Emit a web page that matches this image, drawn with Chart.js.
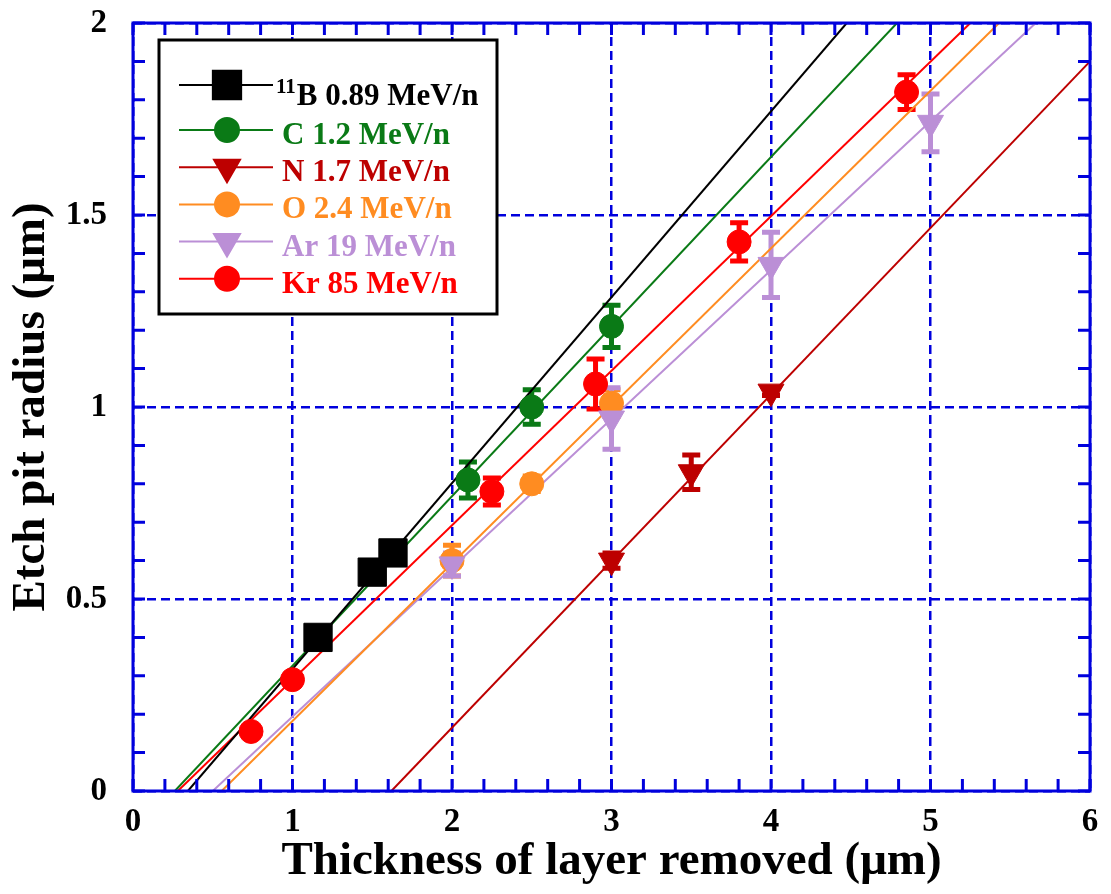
<!DOCTYPE html>
<html>
<head>
<meta charset="utf-8">
<script src="https://cdn.jsdelivr.net/npm/chart.js@4.4.1/dist/chart.umd.min.js"></script>
<style>
body { margin: 0; background: #fff; }
#wrap { width: 1111px; height: 894px; }
</style>
</head>
<body>
<div id="wrap"><canvas id="etch" width="1111" height="894"></canvas></div>
<script>
// measured pits: x = thickness removed (um), y = pit radius (um), err = half error bar
var b_x = [1.16, 1.5, 1.63];
var b_y = [0.40, 0.57, 0.62];
var b_err = [0, 0, 0];

var c_x = [2.1, 2.5, 3.0];
var c_y = [0.81, 1.0, 1.21];
var c_err = [0.047, 0.045, 0.055];

var n_x = [3.0, 3.5, 4.0];
var n_y = [0.60, 0.83, 1.04];
var n_err = [0.02, 0.045, 0.01];

var o_x = [2.0, 2.5, 3.0];
var o_y = [0.60, 0.80, 1.01];
var o_err = [0.04, 0.02, 0.035];

var ar_x = [2.0, 3.0, 4.0, 5.0];
var ar_y = [0.59, 0.97, 1.37, 1.74];
var ar_err = [0.03, 0.08, 0.085, 0.075];

var kr_x = [0.74, 1.0, 2.25, 2.9, 3.8, 4.85];
var kr_y = [0.155, 0.29, 0.78, 1.06, 1.43, 1.82];
var kr_err = [0, 0, 0.035, 0.065, 0.05, 0.045];

// linear fits, given by their two end points
var fit_b_x = [0.344, 4.475];   var fit_b_y = [0, 2];
var fit_c_x = [0.262, 4.79];    var fit_c_y = [0, 2];
var fit_n_x = [1.62, 6.0];      var fit_n_y = [0, 1.90];
var fit_o_x = [0.556, 5.43];    var fit_o_y = [0, 2];
var fit_ar_x = [0.50, 5.66];    var fit_ar_y = [0, 2];
var fit_kr_x = [0.281, 5.25];   var fit_kr_y = [0, 2];

var labels = ['B 0.89 MeV/n', 'C 1.2 MeV/n', 'N 1.7 MeV/n', 'O 2.4 MeV/n', 'Ar 19 MeV/n', 'Kr 85 MeV/n'];
var label_sup = ['11', '', '', '', '', ''];

var x_ticks = [0, 1, 2, 3, 4, 5, 6];
var y_ticks = [0, 0.5, 1, 1.5, 2];

var colors = ['#000000', '#0a7a16', '#bd0000', '#ff8c21', '#bb8fd6', '#ff0000'];
var styles = ['rect', 'circle', 'triangle', 'circle', 'triangle', 'circle'];
var radii = [20, 12, 15, 12, 15, 12];
var turns = [0, 0, 180, 0, 180, 0];

var BLUE = '#0000dd';
var SERIF = '"Liberation Serif", "Times New Roman", serif';

function pts(xs, ys) {
    return xs.map(function(x, i) { return {x: x, y: ys[i]}; });
}

var series = [
    [b_x, b_y, b_err, fit_b_x, fit_b_y],
    [c_x, c_y, c_err, fit_c_x, fit_c_y],
    [n_x, n_y, n_err, fit_n_x, fit_n_y],
    [o_x, o_y, o_err, fit_o_x, fit_o_y],
    [ar_x, ar_y, ar_err, fit_ar_x, fit_ar_y],
    [kr_x, kr_y, kr_err, fit_kr_x, fit_kr_y]
];

var datasets = [];
series.forEach(function(s, i) {
    datasets.push({
        label: labels[i] + ' fit',
        data: pts(s[3], s[4]),
        showLine: true,
        borderColor: colors[i],
        borderWidth: 2,
        pointRadius: 0,
        order: 20
    });
});
series.forEach(function(s, i) {
    datasets.push({
        label: labels[i],
        data: pts(s[0], s[1]),
        err: s[2],
        showLine: false,
        backgroundColor: colors[i],
        borderColor: colors[i],
        pointStyle: styles[i],
        pointRadius: radii[i],
        pointRotation: turns[i],
        pointBorderWidth: 1,
        order: 10 - i
    });
});

function draw_error_bars(chart) {
    var ctx = chart.ctx;
    var xs = chart.scales.x, ys = chart.scales.y;
    ctx.save();
    chart.data.datasets.forEach(function(ds) {
        if (!ds.err) return;
        ctx.strokeStyle = ds.borderColor;
        ds.data.forEach(function(p, j) {
            var e = ds.err[j];
            if (!e) return;
            var px = xs.getPixelForValue(p.x);
            var top = ys.getPixelForValue(p.y + e);
            var bot = ys.getPixelForValue(p.y - e);
            ctx.lineWidth = 5;
            ctx.beginPath();
            ctx.moveTo(px, top); ctx.lineTo(px, bot);
            ctx.moveTo(px - 9, top); ctx.lineTo(px + 9, top);
            ctx.moveTo(px - 9, bot); ctx.lineTo(px + 9, bot);
            ctx.stroke();
        });
    });
    ctx.restore();
}

function draw_frame(chart) {
    var ctx = chart.ctx;
    var a = chart.chartArea;
    var xs = chart.scales.x, ys = chart.scales.y;
    var len = 12;
    ctx.save();
    ctx.strokeStyle = BLUE;
    ctx.lineWidth = 3;
    ctx.beginPath();
    for (var i = 0; i <= 30; i++) {
        var px = xs.getPixelForValue(i / 5);
        ctx.moveTo(px, a.bottom); ctx.lineTo(px, a.bottom - len);
        ctx.moveTo(px, a.top); ctx.lineTo(px, a.top + len);
    }
    for (var k = 0; k <= 20; k++) {
        var py = ys.getPixelForValue(k / 10);
        ctx.moveTo(a.left, py); ctx.lineTo(a.left + len, py);
        ctx.moveTo(a.right, py); ctx.lineTo(a.right - len, py);
    }
    ctx.stroke();
    ctx.strokeRect(a.left, a.top, a.right - a.left, a.bottom - a.top);
    ctx.restore();
}

function draw_legend(chart) {
    var ctx = chart.ctx;
    var bx = 159, by = 40, bw = 338, bh = 274;
    ctx.save();
    ctx.fillStyle = '#ffffff';
    ctx.fillRect(bx, by, bw, bh);
    ctx.strokeStyle = '#000000';
    ctx.lineWidth = 3;
    ctx.strokeRect(bx, by, bw, bh);

    labels.forEach(function(lab, i) {
        var ry = i === 0 ? 85 : 130 + 37.2 * (i - 1);
        var base = i === 0 ? ry + 20 : ry + 14;
        ctx.strokeStyle = colors[i];
        ctx.fillStyle = colors[i];
        ctx.lineWidth = 2;
        ctx.beginPath();
        ctx.moveTo(179, ry); ctx.lineTo(273, ry);
        ctx.stroke();
        Chart.helpers.drawPoint(ctx, {
            pointStyle: styles[i],
            radius: radii[i],
            rotation: turns[i],
            borderWidth: 1
        }, 227, ry);

        var tx = 282;
        ctx.textBaseline = 'alphabetic';
        ctx.textAlign = 'left';
        if (label_sup[i]) {
            ctx.font = 'bold 21px ' + SERIF;
            ctx.fillText(label_sup[i], 276, base - 12);
            tx = 276 + ctx.measureText(label_sup[i]).width + 1;
        }
        ctx.font = 'bold 31px ' + SERIF;
        ctx.fillText(lab, tx, base);
    });
    ctx.restore();
}

var decor_plugin = {
    id: 'decor',
    beforeDatasetsDraw: function(chart) { draw_error_bars(chart); },
    afterDraw: function(chart) {
        draw_frame(chart);
        draw_legend(chart);
    }
};

function plain(v) { return String(v); }

var ctx = document.getElementById('etch');
new Chart(ctx, {
    type: 'scatter',
    data: { datasets: datasets },
    plugins: [decor_plugin],
    options: {
        responsive: false,
        maintainAspectRatio: false,
        animation: false,
        layout: { padding: { top: 23, right: 18, left: 0, bottom: 0 } },
        plugins: {
            legend: { display: false },
            tooltip: { enabled: false }
        },
        scales: {
            x: {
                type: 'linear',
                min: 0,
                max: 6,
                afterBuildTicks: function(scale) {
                    scale.ticks = x_ticks.map(function(v) { return {value: v}; });
                },
                afterFit: function(scale) {
                    scale.height = 103;
                },
                ticks: {
                    autoSkip: false,
                    maxRotation: 0,
                    padding: 0,
                    color: '#000',
                    callback: plain,
                    font: { family: SERIF, size: 33, weight: 'bold' }
                },
                grid: {
                    color: BLUE,
                    lineWidth: 2.5,
                    drawTicks: true,
                    tickLength: 12,
                    tickColor: 'rgba(0,0,0,0)'
                },
                border: { display: false, dash: [9, 5] },
                title: {
                    display: true,
                    text: 'Thickness of layer removed (\u03bcm)',
                    color: '#000',
                    padding: { top: 0, bottom: 4 },
                    font: { family: SERIF, size: 47, weight: 'bold' }
                }
            },
            y: {
                type: 'linear',
                min: 0,
                max: 2,
                afterBuildTicks: function(scale) {
                    scale.ticks = y_ticks.map(function(v) { return {value: v}; });
                },
                afterFit: function(scale) {
                    scale.width = 133;
                    scale.paddingTop = 0;
                    scale.paddingBottom = 0;
                },
                ticks: {
                    autoSkip: false,
                    padding: 26,
                    color: '#000',
                    callback: plain,
                    font: { family: SERIF, size: 33, weight: 'bold' }
                },
                grid: { color: BLUE, lineWidth: 2.5, drawTicks: false },
                border: { display: false, dash: [9, 5] },
                title: {
                    display: true,
                    text: 'Etch pit radius (\u03bcm)',
                    color: '#000',
                    padding: { top: 4, bottom: 0 },
                    font: { family: SERIF, size: 47, weight: 'bold' }
                }
            }
        }
    }
});
</script>
</body>
</html>
